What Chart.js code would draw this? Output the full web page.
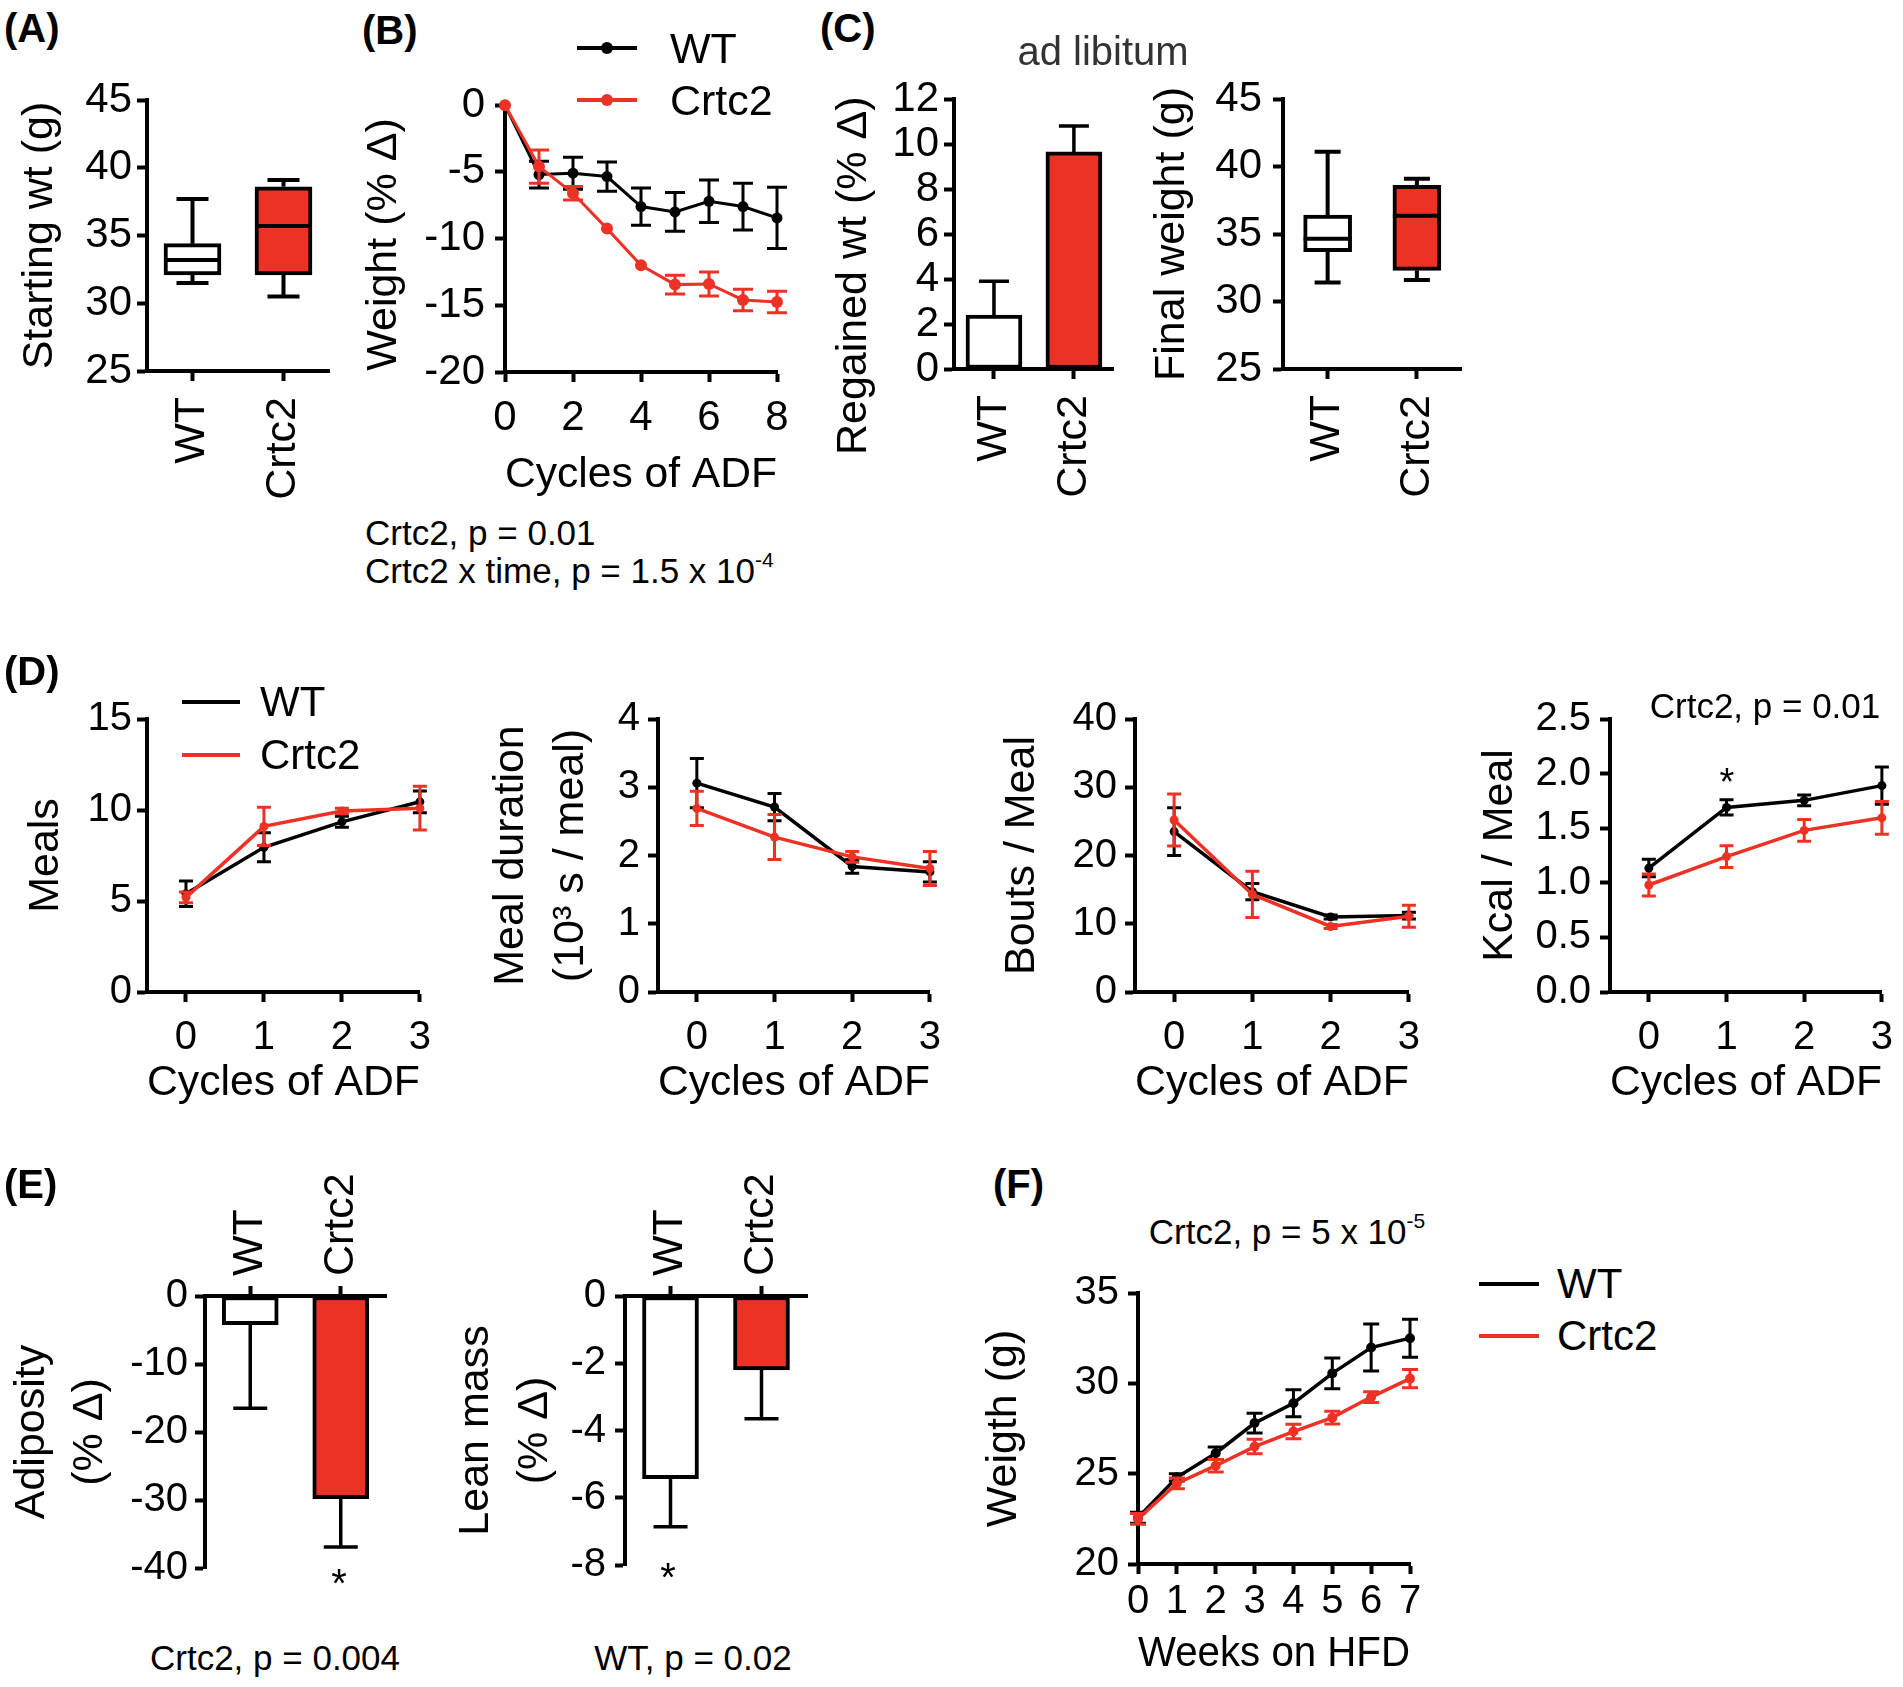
<!DOCTYPE html>
<html>
<head>
<meta charset="utf-8">
<title>Crtc2 and alternate-day fasting</title>
<script src="https://cdn.jsdelivr.net/npm/chart.js@4.4.1/dist/chart.umd.min.js"></script>
<style>
  html, body { margin: 0; padding: 0; background: #fff; overflow: hidden; }
  body { position: relative; width: 1903px; height: 1687px;
         font-family: "Liberation Sans", Arial, Helvetica, sans-serif; color: #000; }
  canvas { position: absolute; }
  .t { position: absolute; white-space: nowrap; line-height: 1; }
  .sw { position: absolute; height: 4px; }
  .dot { position: absolute; border-radius: 50%; }
  .sup { font-size: 0.6em; position: relative; top: -0.75em; }
</style>
</head>
<body>
<canvas id="chartA"></canvas>
<canvas id="chartB"></canvas>
<canvas id="chartC1"></canvas>
<canvas id="chartC2"></canvas>
<canvas id="chartD1"></canvas>
<canvas id="chartD2"></canvas>
<canvas id="chartD3"></canvas>
<canvas id="chartD4"></canvas>
<canvas id="chartE1"></canvas>
<canvas id="chartE2"></canvas>
<canvas id="chartF"></canvas>
<script>
const FONT = "'Liberation Sans', Arial, Helvetica, sans-serif";
const RED = "#ec3224";

// ---------- data ----------
const groups = ["WT", "Crtc2"];

// (A) starting weight, box = [min, q1, median, q3, max]
const startWtWT = [31.5, 32.1, 33.2, 34.4, 37.7];
const startWtCrtc2 = [30.5, 32.1, 35.7, 38.6, 39.1];

// (B) weight change over ADF cycles
const cyclesB = [0, 1, 2, 3, 4, 5, 6, 7, 8];
const weightWT = [0, -5.2, -5.1, -5.35, -7.6, -8.0, -7.2, -7.6, -8.45];
const weightWTErr = [0, 1.0, 1.2, 1.1, 1.4, 1.45, 1.6, 1.75, 2.3];
const weightCrtc2 = [0, -4.6, -6.6, -9.25, -12.0, -13.45, -13.4, -14.6, -14.75];
const weightCrtc2Err = [0, 1.25, 0.5, 0, 0, 0.7, 0.9, 0.8, 0.8];

// (C) ad libitum
const regainedMean = [2.4, 9.65];
const regainedErr = [1.5, 1.15];
const finalWtWT = [31.4, 33.7, 34.65, 36.4, 41.1];
const finalWtCrtc2 = [31.6, 32.3, 36.35, 38.6, 39.1];

// (D) feeding behaviour
const cyclesD = [0, 1, 2, 3];
const mealsWT = [5.4, 7.95, 9.35, 10.45];
const mealsWTErr = [0.7, 0.8, 0.3, 0.6];
const mealsCrtc2 = [5.2, 9.1, 9.95, 10.1];
const mealsCrtc2Err = [0.3, 1.05, 0.15, 1.2];
const durationWT = [3.06, 2.71, 1.84, 1.76];
const durationWTErr = [0.36, 0.2, 0.1, 0.15];
const durationCrtc2 = [2.69, 2.27, 1.98, 1.81];
const durationCrtc2Err = [0.25, 0.33, 0.08, 0.25];
const boutsWT = [23.5, 14.7, 11.0, 11.2];
const boutsWTErr = [3.5, 1.2, 0.3, 0.5];
const boutsCrtc2 = [25.2, 14.3, 9.6, 11.1];
const boutsCrtc2Err = [3.8, 3.4, 0.3, 1.6];
const kcalWT = [1.135, 1.69, 1.755, 1.89];
const kcalWTErr = [0.08, 0.07, 0.05, 0.17];
const kcalCrtc2 = [0.98, 1.24, 1.48, 1.595];
const kcalCrtc2Err = [0.1, 0.1, 0.1, 0.15];

// (E) body composition change
const adiposityMean = [-4.2, -29.8];
const adiposityErr = [12.3, 7.1];
const leanMean = [-5.43, -2.2];
const leanErr = [1.43, 1.45];

// (F) high fat diet
const weeks = [0, 1, 2, 3, 4, 5, 6, 7];
const hfdWT = [22.56, 24.8, 26.13, 27.8, 28.9, 30.55, 31.98, 32.5];
const hfdWTErr = [0.3, 0.2, 0.35, 0.55, 0.75, 0.85, 1.3, 1.05];
const hfdCrtc2 = [22.5, 24.46, 25.44, 26.5, 27.33, 28.1, 29.24, 30.26];
const hfdCrtc2Err = [0.3, 0.3, 0.35, 0.4, 0.4, 0.35, 0.3, 0.5];

// ---------- plugins ----------
const errorBars = {
  id: "errorBars",
  afterDatasetDraw(chart, args) {
    const ds = chart.data.datasets[args.index];
    if (!ds.err) return;
    const ys = chart.scales.y, ctx = chart.ctx;
    ctx.save();
    ctx.strokeStyle = ds.errColor || ds.borderColor;
    ctx.lineWidth = ds.errWidth || 3;
    args.meta.data.forEach((el, i) => {
      const e = ds.err[i];
      if (!e) return;
      const v = args.meta.controller.getParsed(i).y;
      let lo = v - e, hi = v + e;
      if (ds.oneSided) { if (v < 0) hi = v; else lo = v; }
      const x = el.x, cw = ds.capHalf || 8;
      const yl = ys.getPixelForValue(lo), yh = ys.getPixelForValue(hi);
      ctx.beginPath();
      ctx.moveTo(x, yl); ctx.lineTo(x, yh);
      if (!(ds.oneSided && v >= 0)) { ctx.moveTo(x - cw, yl); ctx.lineTo(x + cw, yl); }
      if (!(ds.oneSided && v < 0)) { ctx.moveTo(x - cw, yh); ctx.lineTo(x + cw, yh); }
      ctx.stroke();
    });
    ctx.restore();
  }
};

const boxPlot = {
  id: "boxPlot",
  afterDatasetDraw(chart, args) {
    const ds = chart.data.datasets[args.index];
    if (!ds.box) return;
    const ys = chart.scales.y, ctx = chart.ctx;
    const p = (v) => ys.getPixelForValue(v);
    ctx.save();
    ctx.strokeStyle = "#000";
    ctx.lineWidth = 4;
    args.meta.data.forEach((el, i) => {
      const [mn, q1, md, q3, mx] = ds.box[i];
      const x = el.x, hw = el.width / 2, cw = ds.capHalf;
      ctx.beginPath();
      ctx.moveTo(x, p(q3)); ctx.lineTo(x, p(mx));
      ctx.moveTo(x - cw, p(mx)); ctx.lineTo(x + cw, p(mx));
      ctx.moveTo(x, p(q1)); ctx.lineTo(x, p(mn));
      ctx.moveTo(x - cw, p(mn)); ctx.lineTo(x + cw, p(mn));
      ctx.moveTo(x - hw, p(md)); ctx.lineTo(x + hw, p(md));
      ctx.stroke();
    });
    ctx.restore();
  }
};

Chart.register(errorBars, boxPlot);

// ---------- helpers ----------
function place(id, area, m) {
  const c = document.getElementById(id);
  const w = area[2] - area[0] + m.l + m.r;
  const h = area[3] - area[1] + m.t + m.b;
  c.width = w; c.height = h;
  c.style.left = (area[0] - m.l) + "px";
  c.style.top = (area[1] - m.t) + "px";
  c.style.width = w + "px";
  c.style.height = h + "px";
  return { c: c, left: area[0] - m.l, top: area[1] - m.t, bottom: area[3] + m.b, m: m };
}

function axisBase() {
  return {
    border: { display: true, color: "#000", width: 4 },
    grid: { display: true, drawOnChartArea: false, drawTicks: true, tickLength: 10,
            tickWidth: 4, tickColor: "#000", offset: false },
  };
}

function yAxis(min, max, step, box, o) {
  const size = o.titleSize || 43, lh = o.lh || 1.2;
  const ticks = { stepSize: step, autoSkip: false, color: "#000", padding: o.pad,
                  font: { family: FONT, size: o.size || 42 } };
  if (o.fmt) ticks.callback = o.fmt;
  return Object.assign(axisBase(), {
    type: "linear", min: min, max: max,
    ticks: ticks,
    title: { display: true, text: o.title, color: "#000",
             font: { family: FONT, size: size, lineHeight: lh },
             padding: { top: o.titleX - box.left - size * lh / 2, bottom: 0 } },
    afterFit: (s) => { s.width = box.m.l; },
  });
}

function xLinear(min, max, step, box, o) {
  const size = o.titleSize || 43;
  return Object.assign(axisBase(), {
    type: "linear", min: min, max: max, position: "bottom",
    ticks: { stepSize: step, includeBounds: false, maxRotation: 0, autoSkip: false,
             color: "#000", padding: o.pad, font: { family: FONT, size: o.size || 42 } },
    title: { display: true, text: o.title, color: "#000", font: { family: FONT, size: size },
             padding: { top: 0, bottom: box.bottom - o.titleY - size * 1.2 / 2 } },
    afterFit: (s) => { s.height = box.m.b; },
  });
}

function xGroups(box, o) {
  return Object.assign(axisBase(), {
    type: "category", position: o.top ? "top" : "bottom", offset: true,
    ticks: { minRotation: 90, maxRotation: 90, autoSkip: false, color: "#000",
             padding: o.pad, labelOffset: o.shift || 0, font: { family: FONT, size: 43 } },
    afterFit: (s) => { s.height = o.top ? box.m.t : box.m.b; },
  });
}

function build(box, type, data, scales, xTop) {
  return new Chart(box.c, {
    type: type,
    data: data,
    options: {
      responsive: false, animation: false, devicePixelRatio: 1,
      layout: { padding: xTop ? { left: 0, top: 0, right: box.m.r, bottom: box.m.b }
                              : { left: 0, top: box.m.t, right: box.m.r, bottom: 0 } },
      plugins: { legend: { display: false }, tooltip: { enabled: false } },
      scales: scales,
    },
  });
}

function series(xs, ys, err, color, o) {
  return {
    data: xs.map((x, i) => ({ x: x, y: ys[i] })),
    err: err, borderColor: color, backgroundColor: color,
    pointBackgroundColor: color, pointBorderColor: color, pointBorderWidth: 0,
    borderWidth: o.lw, pointRadius: o.r, capHalf: o.cap, errWidth: 3,
    tension: 0, clip: false, order: o.order,
  };
}

function boxSet(boxes, capHalf, thick) {
  return {
    data: boxes.map((b) => [b[1], b[3]]),
    box: boxes, capHalf: capHalf, barThickness: thick,
    backgroundColor: ["#ffffff", RED], borderColor: "#000", borderWidth: 4,
    borderSkipped: false,
  };
}

function barSet(means, err, capHalf, thick) {
  return {
    data: means, err: err, oneSided: true, capHalf: capHalf, errColor: "#000", errWidth: 3.5,
    barThickness: thick, backgroundColor: ["#ffffff", RED], borderColor: "#000",
    borderWidth: 4, borderSkipped: false,
  };
}

function text(html, x, y, size, o) {
  o = o || {};
  const d = document.createElement("div");
  d.className = "t";
  d.innerHTML = html;
  d.style.left = x + "px";
  d.style.top = y + "px";
  d.style.fontSize = size + "px";
  if (o.bold) d.style.fontWeight = "bold";
  if (o.color) d.style.color = o.color;
  d.style.transform = o.center ? "translate(-50%,-50%)" : "translateY(-50%)";
  document.body.appendChild(d);
}

function swatch(x0, x1, y, color, dotR) {
  const s = document.createElement("div");
  s.className = "sw";
  s.style.left = x0 + "px"; s.style.width = (x1 - x0) + "px";
  s.style.top = (y - 2) + "px"; s.style.background = color;
  document.body.appendChild(s);
  if (dotR) {
    const d = document.createElement("div");
    d.className = "dot";
    d.style.left = ((x0 + x1) / 2 - dotR) + "px"; d.style.top = (y - dotR) + "px";
    d.style.width = d.style.height = (2 * dotR) + "px"; d.style.background = color;
    document.body.appendChild(d);
  }
}

// ---------- (A) ----------
let box = place("chartA", [147, 100, 329, 371], { l: 147, t: 40, r: 30, b: 150 });
build(box, "bar",
  { labels: groups, datasets: [boxSet([startWtWT, startWtCrtc2], 16, 57)] },
  { x: xGroups(box, { pad: 16 }),
    y: yAxis(25, 45, 5, box, { pad: 5, title: "Starting wt (g)", titleX: 40 }) });

// ---------- (B) ----------
box = place("chartB", [505, 100, 777, 372], { l: 150, t: 30, r: 40, b: 132 });
build(box, "line",
  { datasets: [
      series(cyclesB, weightWT, weightWTErr, "#000", { lw: 3, r: 5.5, cap: 10, order: 1 }),
      series(cyclesB, weightCrtc2, weightCrtc2Err, RED, { lw: 3, r: 6, cap: 10, order: 0 }) ] },
  { x: xLinear(0, 8, 2, box, { pad: 11, title: "Cycles of ADF", titleY: 475 }),
    y: yAxis(-20, 0, 5, box, { pad: 10, title: "Weight (% \u0394) ", titleX: 384 }) });

// ---------- (C) ----------
box = place("chartC1", [954, 99, 1134, 369], { l: 134, t: 40, r: 10, b: 150 });
build(box, "bar",
  { labels: groups, datasets: [barSet(regainedMean, regainedErr, 15, 56)] },
  { x: xGroups(box, { pad: 16 }),
    // trailing spaces push the title down along the axis, as in the original layout
    y: yAxis(0, 12, 2, box, { pad: 5, title: "Regained wt (% \u0394)       ", titleX: 854 }) });

box = place("chartC2", [1283, 99, 1462, 369], { l: 143, t: 40, r: 30, b: 150 });
build(box, "bar",
  { labels: groups, datasets: [boxSet([finalWtWT, finalWtCrtc2], 13, 48)] },
  { x: xGroups(box, { pad: 16 }),
    y: yAxis(25, 45, 5, box, { pad: 11, title: "Final weight (g)", titleX: 1172 }) });

// ---------- (D) ----------
const dLine = { lw: 3.5, r: 4.5, cap: 7 };
function dPanel(id, area, left, wt, wtErr, cr, crErr, ymin, ymax, step, title, titleX, pad, lh, fmt) {
  const b = place(id, area, { l: area[0] - left, t: 45, r: 22, b: 120 });
  build(b, "line",
    { datasets: [
        series(cyclesD, wt, wtErr, "#000", Object.assign({ order: 1 }, dLine)),
        series(cyclesD, cr, crErr, RED, Object.assign({ order: 0 }, dLine)) ] },
    { x: xLinear(-0.5, 3, 1, b, { pad: 12, title: "Cycles of ADF", titleY: 1083, size: 40 }),
      y: yAxis(ymin, ymax, step, b, { pad: pad, title: title, titleX: titleX, size: 40, lh: lh, fmt: fmt }) });
}
dPanel("chartD1", [147, 719, 421, 992], 0, mealsWT, mealsWTErr, mealsCrtc2, mealsCrtc2Err,
  0, 15, 5, "Meals", 46, 5);
dPanel("chartD2", [658, 719, 931, 992], 470, durationWT, durationWTErr, durationCrtc2, durationCrtc2Err,
  0, 4, 1, ["Meal duration", "(10\u00b3 s / meal)"], 511, 8, 1.4);
dPanel("chartD3", [1135, 719, 1410, 992], 975, boutsWT, boutsWTErr, boutsCrtc2, boutsCrtc2Err,
  0, 40, 10, "Bouts / Meal", 1022, 8);
dPanel("chartD4", [1610, 719, 1883, 992], 1455, kcalWT, kcalWTErr, kcalCrtc2, kcalCrtc2Err,
  0, 2.5, 0.5, "Kcal / Meal", 1500, 9, 1.2, (v) => v.toFixed(1));

// ---------- (E) ----------
box = place("chartE1", [205, 1296, 386, 1569], { l: 205, t: 140, r: 20, b: 30 });
build(box, "bar",
  { labels: groups, datasets: [barSet(adiposityMean, adiposityErr, 17, 56)] },
  { x: xGroups(box, { pad: 10, top: true, shift: 51.6 }),
    y: yAxis(-40, 0, 10, box, { pad: 7, size: 40, title: ["Adiposity", "(% \u0394)"], titleX: 32, lh: 1.35 }) },
  true);

box = place("chartE2", [625, 1296, 807, 1568], { l: 185, t: 140, r: 20, b: 30 });
build(box, "bar",
  { labels: groups, datasets: [barSet(leanMean, leanErr, 17, 56)] },
  { x: xGroups(box, { pad: 10, top: true, shift: 51.6 }),
    y: yAxis(-8, 0, 2, box, { pad: 9, size: 40, title: ["Lean mass", "(% \u0394)"], titleX: 476, lh: 1.37 }) },
  true);

// ---------- (F) ----------
box = place("chartF", [1138, 1293, 1410, 1564], { l: 163, t: 40, r: 30, b: 120 });
build(box, "line",
  { datasets: [
      series(weeks, hfdWT, hfdWTErr, "#000", { lw: 3.5, r: 5, cap: 8, order: 1 }),
      series(weeks, hfdCrtc2, hfdCrtc2Err, RED, { lw: 3.5, r: 5, cap: 8, order: 0 }) ] },
  { x: xLinear(0, 7, 1, box, { pad: 4, title: "Weeks on HFD", titleY: 1654, size: 40 }),
    y: yAxis(20, 35, 5, box, { pad: 9, size: 40, title: "Weigth (g)", titleX: 1004 }) });

// ---------- text, legends ----------
text("(A)", 4, 28, 40, { bold: true });
text("(B)", 362, 30, 40, { bold: true });
text("(C)", 820, 28, 40, { bold: true });
text("(D)", 4, 671, 40, { bold: true });
text("(E)", 4, 1184, 40, { bold: true });
text("(F)", 993, 1184, 40, { bold: true });

swatch(577, 637, 48, "#000", 6);
swatch(577, 637, 100, RED, 6);
text("WT", 670, 48, 43);
text("Crtc2", 670, 100, 43);
text("Crtc2, p = 0.01", 365, 532, 35);
text("Crtc2 x time, p = 1.5 x 10<span class='sup'>-4</span>", 365, 570, 35);

text("ad libitum", 1103, 51, 40, { center: true, color: "#333" });

swatch(182, 240, 702, "#000");
swatch(182, 240, 755, RED);
text("WT", 260, 702, 42);
text("Crtc2", 260, 755, 42);
text("Crtc2, p = 0.01", 1765, 705, 35, { center: true });
text("*", 1727, 782, 38, { center: true });

text("*", 339, 1583, 40, { center: true });
text("*", 668, 1577, 40, { center: true });
text("Crtc2, p = 0.004", 275, 1657, 35, { center: true });
text("WT, p = 0.02", 693, 1657, 35, { center: true });

text("Crtc2, p = 5 x 10<span class='sup'>-5</span>", 1287, 1231, 35, { center: true });
swatch(1479, 1539, 1284, "#000");
swatch(1479, 1539, 1336, RED);
text("WT", 1557, 1284, 42);
text("Crtc2", 1557, 1336, 42);
</script>
</body>
</html>
